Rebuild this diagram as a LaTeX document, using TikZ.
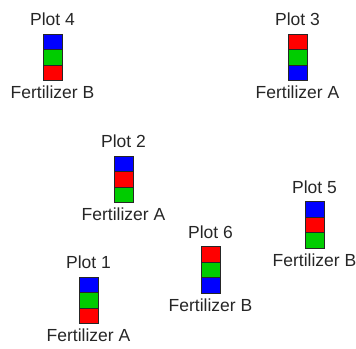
\documentclass[tikz,border=0pt]{standalone}
\usepackage{fontspec}
\setmainfont{Liberation Sans}
\usetikzlibrary{positioning}

\definecolor{cellblue}{RGB}{0,0,255}
\definecolor{cellgreen}{RGB}{0,204,0}
\definecolor{cellred}{RGB}{255,0,0}

\begin{document}
\begin{tikzpicture}[x=1pt,y=1pt,node distance=0pt,
    cell/.style={draw=black!85,line width=1pt,minimum width=19pt,minimum height=15.5pt,inner sep=0pt,outer sep=0pt},
    lbl/.style={inner sep=0pt,text=black!85,font=\fontsize{17.5}{19}\selectfont}]
  \useasboundingbox (0,0) rectangle (356,-348);
  % Plot 4
  \node[cell,fill=cellgreen] (p4m) at (52.5,-57.5) {};
  \node[cell,fill=cellblue,above=of p4m] (p4t) {};
  \node[cell,fill=cellred,below=of p4m] (p4b) {};
  \node[lbl,above=8pt of p4t] (p4name) {Plot 4};
  \node[lbl,below=5pt of p4b] (p4fert) {Fertilizer B};
  % Plot 3
  \node[cell,fill=cellgreen] (p3m) at (297.5,-57.5) {};
  \node[cell,fill=cellred,above=of p3m] (p3t) {};
  \node[cell,fill=cellblue,below=of p3m] (p3b) {};
  \node[lbl,above=8pt of p3t] (p3name) {Plot 3};
  \node[lbl,below=5pt of p3b] (p3fert) {Fertilizer A};
  % Plot 2
  \node[cell,fill=cellred] (p2m) at (123.5,-179.5) {};
  \node[cell,fill=cellblue,above=of p2m] (p2t) {};
  \node[cell,fill=cellgreen,below=of p2m] (p2b) {};
  \node[lbl,above=8pt of p2t] (p2name) {Plot 2};
  \node[lbl,below=5pt of p2b] (p2fert) {Fertilizer A};
  % Plot 5
  \node[cell,fill=cellred] (p5m) at (314.5,-225) {};
  \node[cell,fill=cellblue,above=of p5m] (p5t) {};
  \node[cell,fill=cellgreen,below=of p5m] (p5b) {};
  \node[lbl,above=8pt of p5t] (p5name) {Plot 5};
  \node[lbl,below=5pt of p5b] (p5fert) {Fertilizer B};
  % Plot 6
  \node[cell,fill=cellgreen] (p6m) at (210.5,-270) {};
  \node[cell,fill=cellred,above=of p6m] (p6t) {};
  \node[cell,fill=cellblue,below=of p6m] (p6b) {};
  \node[lbl,above=8pt of p6t] (p6name) {Plot 6};
  \node[lbl,below=5pt of p6b] (p6fert) {Fertilizer B};
  % Plot 1
  \node[cell,fill=cellgreen] (p1m) at (88.5,-300.5) {};
  \node[cell,fill=cellblue,above=of p1m] (p1t) {};
  \node[cell,fill=cellred,below=of p1m] (p1b) {};
  \node[lbl,above=8pt of p1t] (p1name) {Plot 1};
  \node[lbl,below=5pt of p1b] (p1fert) {Fertilizer A};
\end{tikzpicture}
\end{document}
